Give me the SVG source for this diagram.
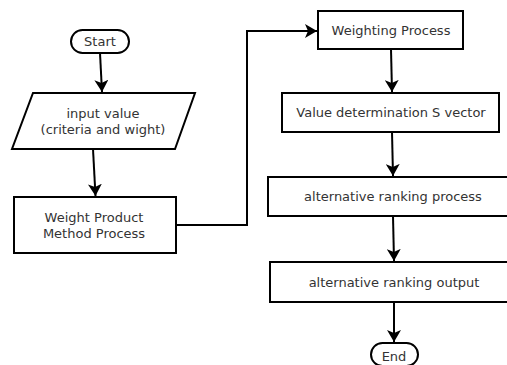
<svg xmlns="http://www.w3.org/2000/svg" width="507" height="365" viewBox="0 0 507 365">
<style>
.shape{fill:#fff;stroke:#000;stroke-width:2}
.lbl{font-family:"DejaVu Sans",sans-serif;font-size:13px;fill:#333;text-anchor:middle}
.conn{fill:none;stroke:#000;stroke-width:2}
</style>
<defs>
<marker id="arr" viewBox="0 0 12 14" refX="12" refY="7" markerWidth="12" markerHeight="14" markerUnits="userSpaceOnUse" orient="auto">
<path d="M0,0 L12,7 L0,14 L3,7 Z" fill="#000"/>
</marker>
</defs>
<rect width="507" height="365" fill="#fff"/>
<g id="connectors">
<path class="conn" d="M100,53 L102,92" marker-end="url(#arr)"/>
<path class="conn" d="M93,149 L95.5,196" marker-end="url(#arr)"/>
<path class="conn" d="M176,225 L247,225 L247,31 L317,31" marker-end="url(#arr)"/>
<path class="conn" d="M391,49 L392,92" marker-end="url(#arr)"/>
<path class="conn" d="M392,132 L393,176" marker-end="url(#arr)"/>
<path class="conn" d="M393,216 L394,261" marker-end="url(#arr)"/>
<path class="conn" d="M394,302 L394,342" marker-end="url(#arr)"/>
</g>
<g id="start">
<rect class="shape" x="71" y="30" width="58" height="23" rx="11.5"/>
<text class="lbl" x="100" y="46">Start</text>
</g>
<g id="input">
<polygon class="shape" points="33,93 195,93 175,149 12,149"/>
<text class="lbl" x="103" y="118">input value</text>
<text class="lbl" x="103" y="134">(criteria and wight)</text>
</g>
<g id="wpm">
<rect class="shape" x="14" y="197" width="162" height="56"/>
<text class="lbl" x="94" y="222">Weight Product</text>
<text class="lbl" x="94" y="238">Method Process</text>
</g>
<g id="weighting">
<rect class="shape" x="318" y="11" width="145" height="38"/>
<text class="lbl" x="391" y="35">Weighting Process</text>
</g>
<g id="svector">
<rect class="shape" x="282" y="93" width="217" height="39"/>
<text class="lbl" x="391" y="117">Value determination S vector</text>
</g>
<g id="ranking">
<rect class="shape" x="268" y="177" width="250" height="39"/>
<text class="lbl" x="393" y="201">alternative ranking process</text>
</g>
<g id="output">
<rect class="shape" x="270" y="262" width="250" height="40"/>
<text class="lbl" x="394" y="287">alternative ranking output</text>
</g>
<g id="end">
<rect class="shape" x="371" y="343" width="47" height="23" rx="11.5"/>
<text class="lbl" x="394" y="361">End</text>
</g>
</svg>
